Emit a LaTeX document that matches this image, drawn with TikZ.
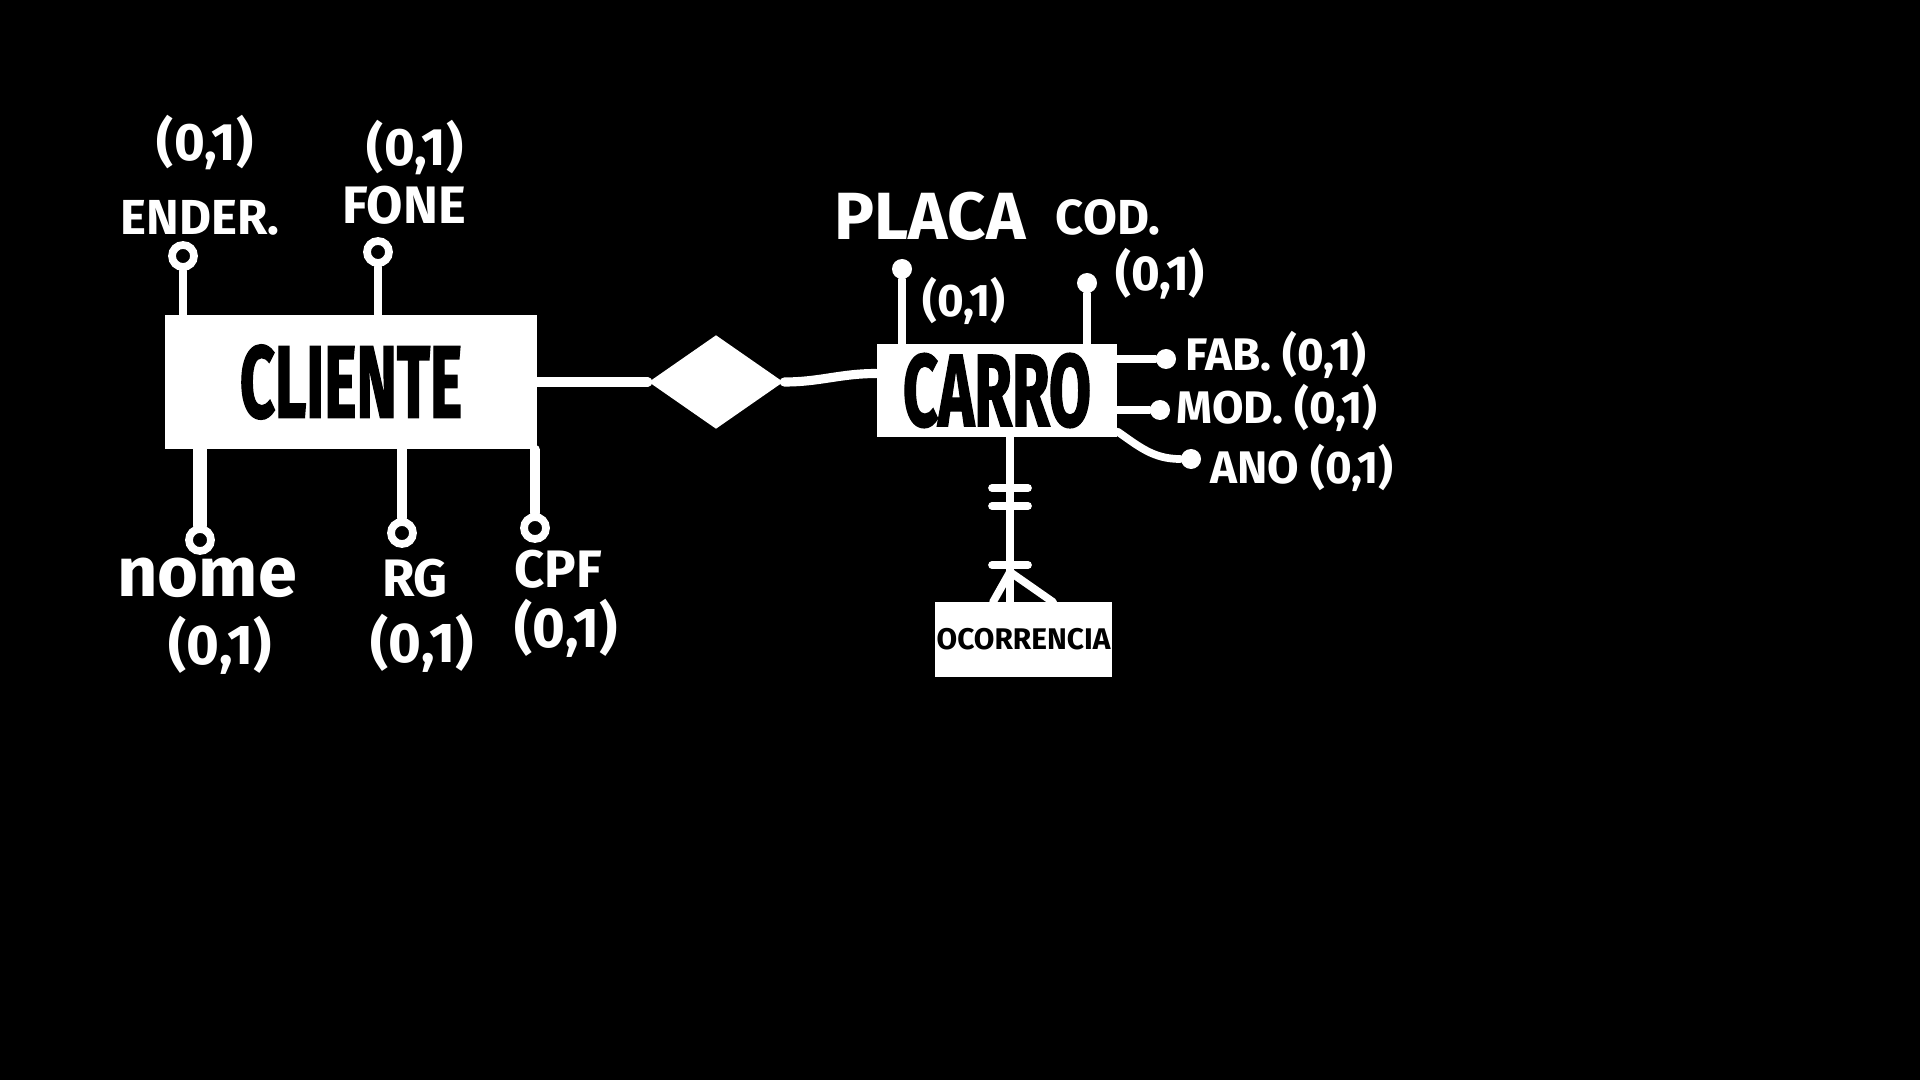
\documentclass[tikz,border=0pt]{standalone}
\usepackage{fontspec}
\setmainfont{Fira Sans}
\newfontfamily\entfont[BoldFeatures={FakeBold=2}]{Fira Sans}
\usetikzlibrary{shapes.geometric}
\definecolor{erback}{HTML}{000000}
\definecolor{erchalk}{HTML}{FFFFFF}
\newcommand{\entname}[1]{{\entfont\fontsize{29}{29}\selectfont\bfseries\scalebox{0.6}[1]{#1}}}

\begin{document}
\begin{tikzpicture}[x=1cm, y=1cm,
    every node/.style={text=erchalk},
    entity/.style={rectangle, fill=erchalk, text=erback, inner sep=0pt},
    attr/.style={draw=erchalk, line width=2.2pt, line cap=round},
    opendot/.style={circle, draw=erchalk, fill=erback, line width=2.2pt, inner sep=0pt, minimum size=0.22cm},
    fulldot/.style={circle, fill=erchalk, inner sep=0pt, minimum size=0.2cm},
    hand/.style={font=\bfseries\fontsize{14}{14}\selectfont, inner sep=0pt},
    card/.style={font=\bfseries\fontsize{15}{15}\selectfont, inner sep=0pt}]

  \fill[erback] (0,0) rectangle (19.2,-10.8);
  \useasboundingbox (0,0) rectangle (19.2,-10.8);

  % Entities
  \node[entity, minimum width=3.72cm, minimum height=1.34cm] (cliente) at (3.51,-3.82) {\entname{CLIENTE}};
  \node[entity, minimum width=2.40cm, minimum height=0.93cm] (carro) at (9.97,-3.905) {\entname{CARRO}};
  \node[entity, minimum width=1.77cm, minimum height=0.75cm] (ocorr) at (10.235,-6.395) {\bfseries\fontsize{8.5}{8.5}\selectfont OCORRENCIA};

  % Relationship
  \node[diamond, fill=erchalk, inner sep=0pt, minimum width=1.35cm, minimum height=0.94cm] (rel) at (7.16,-3.82) {};
  \draw[attr, line width=2.6pt] (cliente.east) -- (rel.west);
  \draw[attr, line width=2.6pt] (rel.east) to[out=0, in=180] ([yshift=0.17cm]carro.west);

  % CLIENTE attributes
  \node[opendot] (enderdot) at (1.83,-2.56) {};
  \node[opendot] (fonedot) at (3.78,-2.52) {};
  \node[opendot] (nomedot) at (2.00,-5.40) {};
  \node[opendot] (rgdot) at (4.02,-5.33) {};
  \node[opendot] (cpfdot) at (5.35,-5.28) {};
  \draw[attr] (enderdot) -- (enderdot |- cliente.north);
  \draw[attr] (fonedot) -- (fonedot |- cliente.north);
  \draw[attr, line width=4pt] (nomedot) -- (nomedot |- cliente.south);
  \draw[attr, line width=2.8pt] (rgdot) -- (rgdot |- cliente.south);
  \draw[attr, line width=2.8pt] (cpfdot) -- (cpfdot |- cliente.south);

  \node[hand] (ender) at (2.00,-2.18) {ENDER.};
  \node[card] (endercard) at (2.05,-1.43) {(0,1)};
  \node[hand, font=\bfseries\fontsize{15}{15}\selectfont] (fone) at (4.04,-2.05) {FONE};
  \node[card] (fonecard) at (4.15,-1.48) {(0,1)};
  \node[hand, font=\bfseries\fontsize{20}{20}\selectfont] (nome) at (2.07,-5.78) {nome};
  \node[card, font=\bfseries\fontsize{16}{16}\selectfont] (nomecard) at (2.20,-6.45) {(0,1)};
  \node[hand, font=\bfseries\fontsize{15}{15}\selectfont] (rg) at (4.15,-5.78) {RG};
  \node[card, font=\bfseries\fontsize{16}{16}\selectfont] (rgcard) at (4.22,-6.43) {(0,1)};
  \node[hand, font=\bfseries\fontsize{15}{15}\selectfont] (cpf) at (5.58,-5.69) {CPF};
  \node[card, font=\bfseries\fontsize{16}{16}\selectfont] (cpfcard) at (5.66,-6.28) {(0,1)};

  % CARRO attributes
  \node[fulldot] (placadot) at (9.02,-2.69) {};
  \node[fulldot] (coddot) at (10.87,-2.83) {};
  \node[fulldot] (fabdot) at (11.66,-3.59) {};
  \node[fulldot] (moddot) at (11.60,-4.10) {};
  \node[fulldot] (anodot) at (11.91,-4.59) {};
  \draw[attr] (placadot) -- (placadot |- carro.north);
  \draw[attr] (coddot) -- (coddot |- carro.north);
  \draw[attr] (fabdot) -- (fabdot -| carro.east);
  \draw[attr] (moddot) -- (moddot -| carro.east);
  \draw[attr] ([yshift=0.06cm]carro.south east) to[out=-35, in=180] (anodot);

  \node[hand, font=\bfseries\fontsize{19}{19}\selectfont] (placa) at (9.30,-2.16) {PLACA};
  \node[card, font=\bfseries\fontsize{13}{13}\selectfont] (placacard) at (9.64,-3.01) {(0,1)};
  \node[hand] (cod) at (11.08,-2.17) {COD.};
  \node[card, font=\bfseries\fontsize{14}{14}\selectfont] (codcard) at (11.60,-2.74) {(0,1)};
  \node[hand, font=\bfseries\fontsize{13}{13}\selectfont, anchor=west] (fab) at (11.85,-3.55) {FAB. (0,1)};
  \node[hand, font=\bfseries\fontsize{13}{13}\selectfont, anchor=west] (mod) at (11.76,-4.08) {MOD. (0,1)};
  \node[hand, font=\bfseries\fontsize{13}{13}\selectfont, anchor=west] (ano) at (12.10,-4.68) {ANO (0,1)};

  % CARRO - OCORRENCIA with cardinality marks
  \coordinate (crow) at (10.10,-5.72);
  \draw[attr] (crow |- carro.south) -- (crow |- ocorr.north);
  \draw[attr] (9.92,-4.88) -- (10.28,-4.88);
  \draw[attr] (9.92,-5.06) -- (10.28,-5.06);
  \draw[attr] (9.92,-5.65) -- (10.28,-5.65);
  \draw[attr] (crow) -- (9.93,-6.02);
  \draw[attr] (crow) -- (10.53,-6.02);
\end{tikzpicture}
\end{document}
